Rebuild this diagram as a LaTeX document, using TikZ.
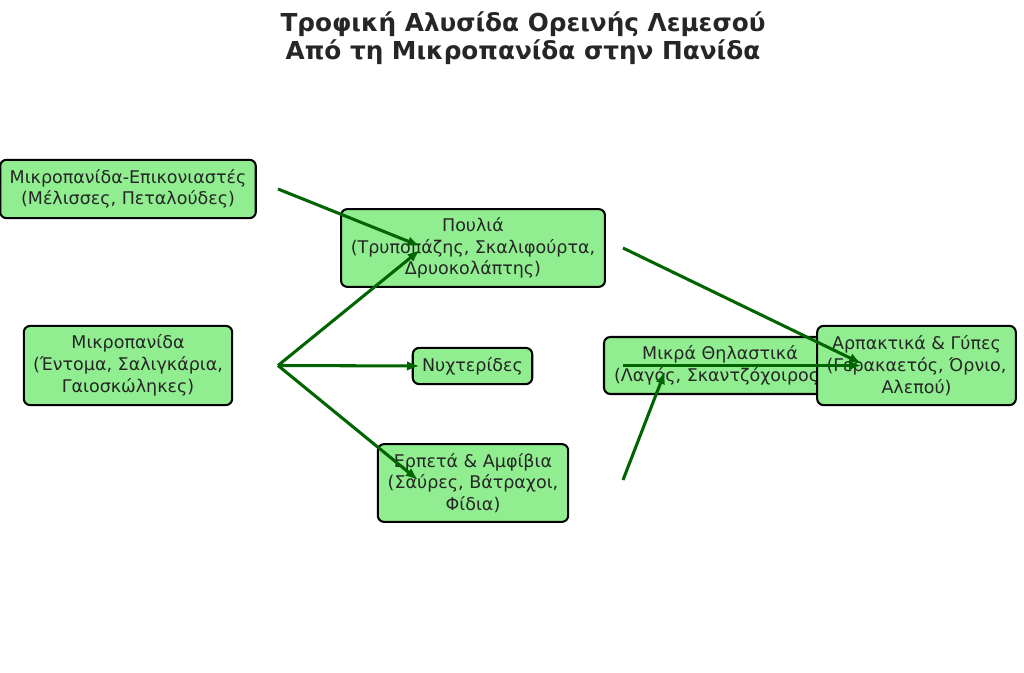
\documentclass[tikz,border=0pt]{standalone}
\usepackage{fontspec}
\setmainfont{DejaVu Sans}
\usetikzlibrary{arrows.meta}
\definecolor{boxfill}{HTML}{90EE90}
\definecolor{arrowgreen}{HTML}{006400}
\definecolor{txt}{HTML}{262626}
\tikzset{
  u/.style={x=0.72pt,y=-0.72pt},
  box/.style={draw=black, line width=1.5pt, fill=boxfill, rounded corners=4.5pt,
    align=center, inner sep=0pt, text=txt,
    font=\fontsize{12.6}{15.6}\selectfont},
  feed/.style={draw=arrowgreen, line width=2.2pt,
    -{Latex[length=9pt,width=7pt]}},
}
\begin{document}
\begin{tikzpicture}[u]
\useasboundingbox (0,0) rectangle (1024,673);
\fill[white] (0,0) rectangle (1024,673);
\node[text=txt, align=center, font=\fontsize{17.8}{20.3}\bfseries\selectfont] (title) at (523,38)
  {Τροφική Αλυσίδα Ορεινής Λεμεσού\\Από τη Μικροπανίδα στην Πανίδα};

\node[box, minimum width=184pt, minimum height=42pt] (epi) at (128,189)
  {Μικροπανίδα-Επικονιαστές\\(Μέλισσες, Πεταλούδες)};
\node[box, minimum width=150pt, minimum height=57pt] (mikro) at (128,365.5)
  {Μικροπανίδα\\(Έντομα, Σαλιγκάρια,\\Γαιοσκώληκες)};
\node[box, minimum width=190pt, minimum height=56pt] (poulia) at (473,248)
  {Πουλιά\\(Τρυποπάζης, Σκαλιφούρτα,\\Δρυοκολάπτης)};
\node[box, minimum width=86pt, minimum height=26pt] (nyx) at (472.5,366)
  {Νυχτερίδες};
\node[box, minimum width=137pt, minimum height=56pt] (erp) at (473,483)
  {Ερπετά \& Αμφίβια\\(Σαύρες, Βάτραχοι,\\Φίδια)};
\node[box, minimum width=167pt, minimum height=41pt] (thil) at (720,365.5)
  {Μικρά Θηλαστικά\\(Λαγός, Σκαντζόχοιρος)};
\node[box, minimum width=143pt, minimum height=57pt] (arp) at (916.5,365.5)
  {Αρπακτικά \& Γύπες\\(Γερακαετός, Όρνιο,\\Αλεπού)};

\draw[feed] ([xshift=150*0.72pt]epi.center) -- ([xshift=-53*0.72pt,yshift=2*0.72pt]poulia.center);
\draw[feed] ([xshift=150*0.72pt]mikro.center) -- ([xshift=-53*0.72pt,yshift=-2*0.72pt]poulia.center);
\draw[feed] ([xshift=150*0.72pt]mikro.center) -- ([xshift=-53*0.72pt]nyx.center);
\draw[feed] ([xshift=150*0.72pt]mikro.center) -- ([xshift=-55*0.72pt,yshift=3*0.72pt]erp.center);
\draw[feed] ([xshift=150*0.72pt]poulia.center) -- ([xshift=-55*0.72pt,yshift=2*0.72pt]arp.center);
\draw[feed] ([xshift=-97*0.72pt]thil.center) -- ([xshift=-55*0.72pt]arp.center);
\draw[feed] ([xshift=150*0.72pt,yshift=3*0.72pt]erp.center) -- ([xshift=-55*0.72pt,yshift=-6*0.72pt]thil.center);
\end{tikzpicture}
\end{document}
